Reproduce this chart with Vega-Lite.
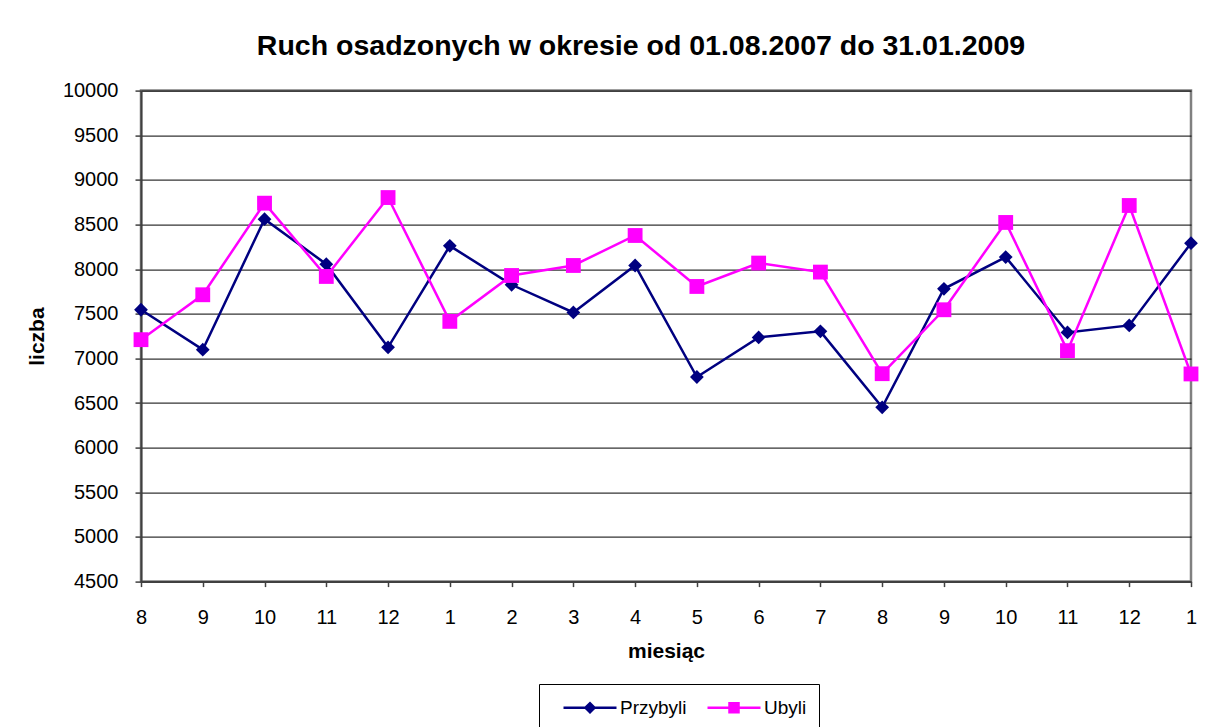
{
  "$schema": "https://vega.github.io/schema/vega-lite/v6.json",
  "width": 1050,
  "height": 491,
  "autosize": "none",
  "padding": {"left": 141, "top": 90.6, "right": 25, "bottom": 145.4},
  "background": "white",
  "title": {
    "text": "Ruch osadzonych w okresie od 01.08.2007 do 31.01.2009",
    "font": "Liberation Sans",
    "fontSize": 28.5,
    "fontWeight": "bold",
    "color": "black",
    "anchor": "middle",
    "dx": -25,
    "dy": 31,
    "offset": 28,
    "baseline": "alphabetic"
  },
  "data": {
    "values": [
      {"m": "2007-08", "series": "Przybyli", "v": 7545},
      {"m": "2007-09", "series": "Przybyli", "v": 7098},
      {"m": "2007-10", "series": "Przybyli", "v": 8560},
      {"m": "2007-11", "series": "Przybyli", "v": 8056},
      {"m": "2007-12", "series": "Przybyli", "v": 7124},
      {"m": "2008-01", "series": "Przybyli", "v": 8261},
      {"m": "2008-02", "series": "Przybyli", "v": 7825},
      {"m": "2008-03", "series": "Przybyli", "v": 7515},
      {"m": "2008-04", "series": "Przybyli", "v": 8041},
      {"m": "2008-05", "series": "Przybyli", "v": 6792},
      {"m": "2008-06", "series": "Przybyli", "v": 7235},
      {"m": "2008-07", "series": "Przybyli", "v": 7303},
      {"m": "2008-08", "series": "Przybyli", "v": 6452},
      {"m": "2008-09", "series": "Przybyli", "v": 7780},
      {"m": "2008-10", "series": "Przybyli", "v": 8135},
      {"m": "2008-11", "series": "Przybyli", "v": 7291},
      {"m": "2008-12", "series": "Przybyli", "v": 7370},
      {"m": "2009-01", "series": "Przybyli", "v": 8291},
      {"m": "2007-08", "series": "Ubyli", "v": 7210},
      {"m": "2007-09", "series": "Ubyli", "v": 7713},
      {"m": "2007-10", "series": "Ubyli", "v": 8739},
      {"m": "2007-11", "series": "Ubyli", "v": 7918},
      {"m": "2007-12", "series": "Ubyli", "v": 8802},
      {"m": "2008-01", "series": "Ubyli", "v": 7415},
      {"m": "2008-02", "series": "Ubyli", "v": 7929},
      {"m": "2008-03", "series": "Ubyli", "v": 8041},
      {"m": "2008-04", "series": "Ubyli", "v": 8377},
      {"m": "2008-05", "series": "Ubyli", "v": 7806},
      {"m": "2008-06", "series": "Ubyli", "v": 8068},
      {"m": "2008-07", "series": "Ubyli", "v": 7967},
      {"m": "2008-08", "series": "Ubyli", "v": 6829},
      {"m": "2008-09", "series": "Ubyli", "v": 7545},
      {"m": "2008-10", "series": "Ubyli", "v": 8523},
      {"m": "2008-11", "series": "Ubyli", "v": 7087},
      {"m": "2008-12", "series": "Ubyli", "v": 8713},
      {"m": "2009-01", "series": "Ubyli", "v": 6826}
    ]
  },
  "config": {
    "view": {"stroke": "#808080", "strokeWidth": 2.5},
    "font": "Liberation Sans"
  },
  "encoding": {
    "x": {
      "field": "m",
      "type": "ordinal",
      "scale": {"type": "point", "padding": 0},
      "axis": {
        "title": "miesiąc",
        "titleFont": "Liberation Sans",
        "titleFontSize": 21,
        "titleFontWeight": "bold",
        "titleColor": "black",
        "titleBaseline": "alphabetic",
        "titleY": 76,
        "labelExpr": "parseInt(slice(datum.value, 5))",
        "labelAngle": 0,
        "labelFont": "Liberation Sans",
        "labelFontSize": 20,
        "labelColor": "black",
        "labelBaseline": "alphabetic",
        "labelPadding": 37,
        "labelOverlap": false,
        "tickSize": 5,
        "tickColor": "#404040",
        "tickWidth": 1.5,
        "domainColor": "#404040",
        "domainWidth": 2,
        "grid": false
      }
    },
    "y": {
      "field": "v",
      "type": "quantitative",
      "scale": {"domain": [4500, 10000], "nice": false, "zero": false},
      "axis": {
        "title": "liczba",
        "titleFont": "Liberation Sans",
        "titleFontSize": 21,
        "titleFontWeight": "bold",
        "titleColor": "black",
        "titleBaseline": "alphabetic",
        "titleAngle": -90,
        "titleX": -98,
        "titleY": 245.5,
        "titleAlign": "center",
        "values": [4500, 5000, 5500, 6000, 6500, 7000, 7500, 8000, 8500, 9000, 9500, 10000],
        "format": "d",
        "labelFont": "Liberation Sans",
        "labelFontSize": 20,
        "labelColor": "black",
        "labelPadding": 17,
        "labelOverlap": false,
        "tickSize": 6,
        "tickColor": "#404040",
        "tickWidth": 1.5,
        "domainColor": "#404040",
        "domainWidth": 2,
        "grid": true,
        "gridColor": "black",
        "gridWidth": 1
      }
    },
    "color": {
      "field": "series",
      "type": "nominal",
      "scale": {"domain": ["Przybyli", "Ubyli"], "range": ["#000080", "#FF00FF"]},
      "legend": {
        "orient": "none",
        "legendX": 398,
        "legendY": 593.4,
        "direction": "horizontal",
        "title": null,
        "strokeColor": "black",
        "fillColor": "white",
        "padding": 12,
        "symbolSize": 400,
        "symbolOffset": 27.5,
        "labelOffset": 18.5,
        "columnPadding": 8,
        "labelFont": "Liberation Sans",
        "labelFontSize": 19,
        "labelColor": "black",
        "symbolStrokeWidth": 2.5,
        "symbolType": "M-2.65,0H2.65M-0.45,0L0,-0.45L0.45,0L0,0.45Z",
        "encode": {
          "symbols": {
            "update": {
              "shape": {"signal": "datum.value === 'Przybyli' ? 'M-2.65,0H2.65M-0.45,0L0,-0.45L0.45,0L0,0.45Z' : 'M-2.65,0H2.65M-0.45,-0.45H0.45V0.45H-0.45Z'"},
              "fill": {"signal": "scale('color', datum.value)"},
              "stroke": {"signal": "scale('color', datum.value)"},
              "strokeWidth": {"value": 2.5},
              "opacity": {"value": 1},
              "fillOpacity": {"value": 1}
            }
          }
        }
      }
    }
  },
  "layer": [
    {"mark": {"type": "line", "strokeWidth": 2.5}},
    {
      "transform": [{"filter": "datum.series === 'Przybyli'"}],
      "mark": {"type": "point", "filled": true, "opacity": 1, "shape": "diamond", "size": 190}
    },
    {
      "transform": [{"filter": "datum.series === 'Ubyli'"}],
      "mark": {"type": "point", "filled": true, "opacity": 1, "shape": "square", "size": 220}
    }
  ]
}
